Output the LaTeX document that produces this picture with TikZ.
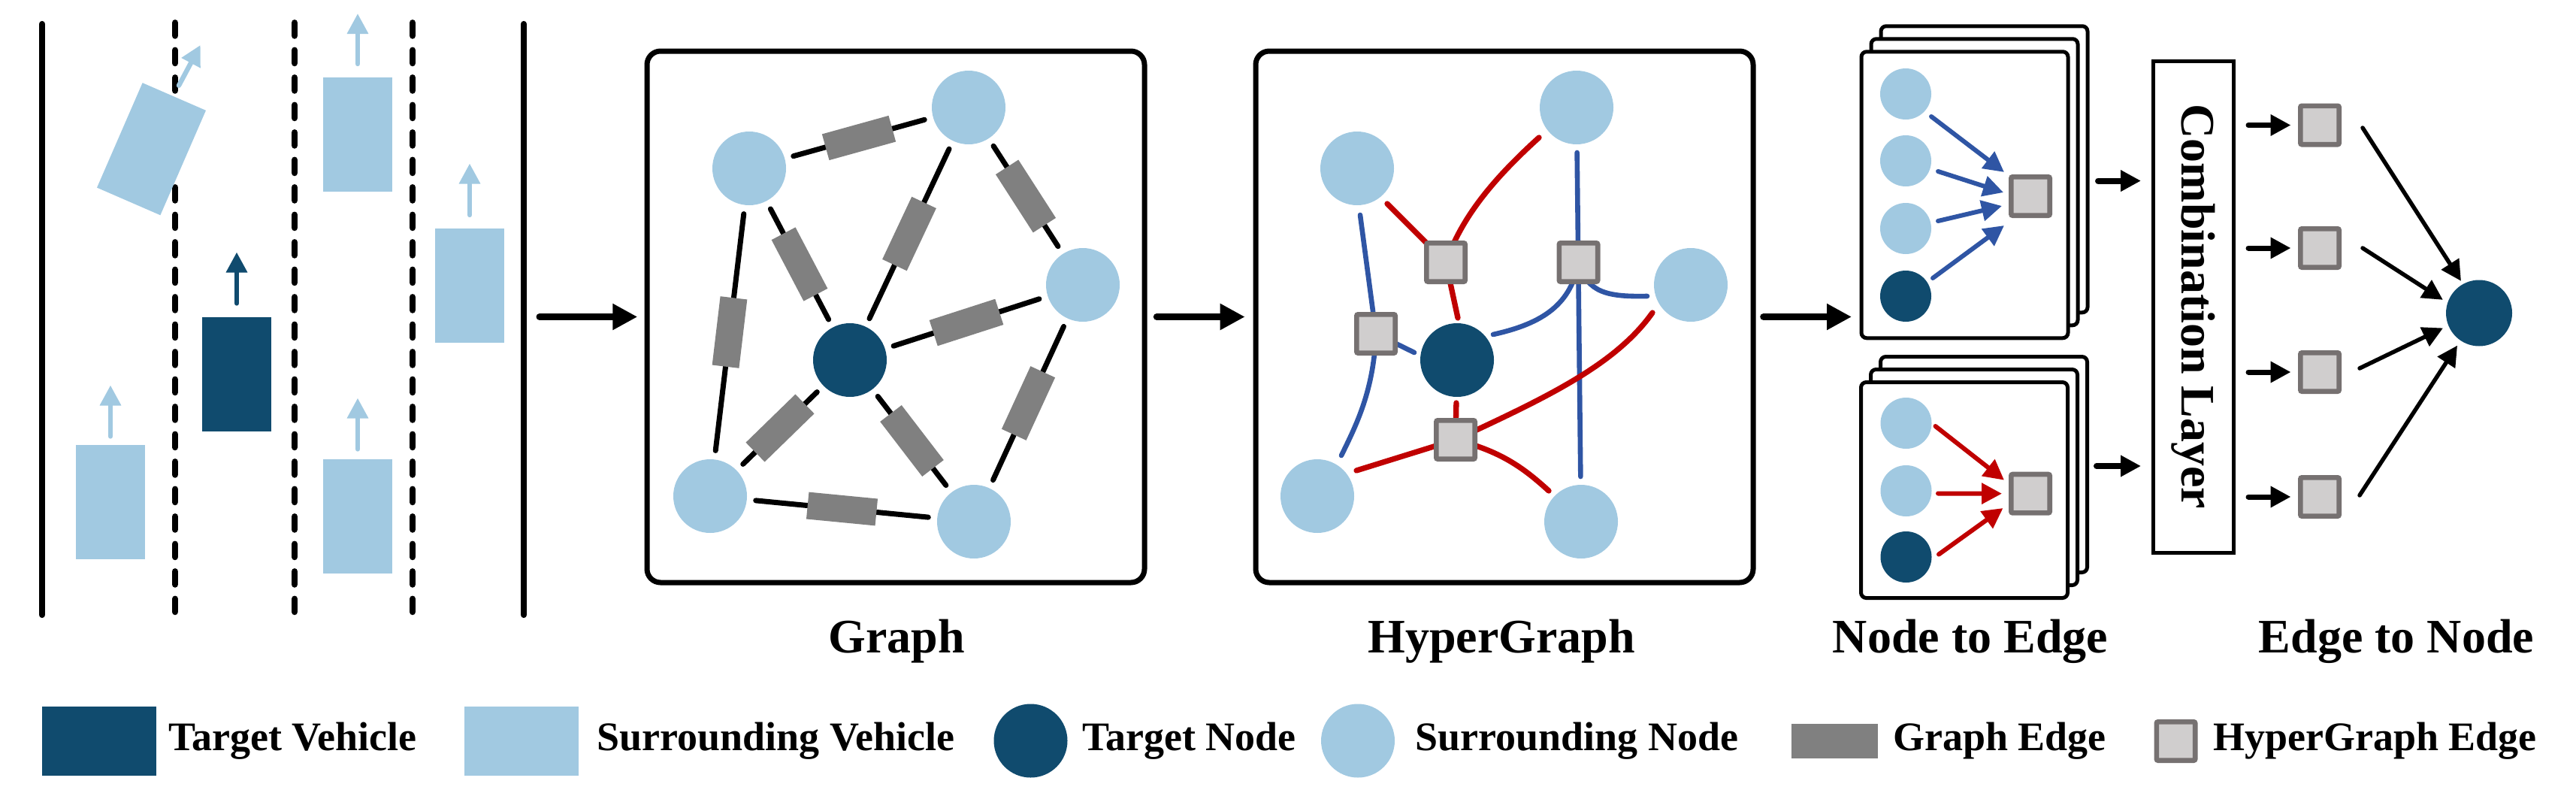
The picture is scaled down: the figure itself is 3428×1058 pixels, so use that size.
\documentclass[tikz,border=0pt]{standalone}
\usepackage{fontspec}
\setmainfont{Liberation Serif}
\usetikzlibrary{arrows.meta,calc}
\definecolor{lightv}{RGB}{161,201,225}
\definecolor{darkv}{RGB}{16,75,110}
\definecolor{gedge}{RGB}{128,128,128}
\definecolor{hfill}{RGB}{208,206,206}
\definecolor{hborder}{RGB}{118,113,113}
\definecolor{hredc}{RGB}{192,0,0}
\definecolor{hbluec}{RGB}{47,85,164}
\tikzset{
  roadsolid/.style={line width=8.3pt, line cap=round},
  roaddash/.style={line width=8.3pt, line cap=round, dash pattern=on 17.4pt off 19.1pt},
  car/.style={rectangle, minimum width=92pt, minimum height=152pt, inner sep=0pt, outer sep=0pt},
  carrow/.style={line width=6.4pt, line cap=round, -{Triangle[length=27pt,width=27pt]}},
  bigarrow/.style={line width=9pt, line cap=round, -{Triangle[length=33pt,width=33pt]}},
  midarrow/.style={line width=8pt, line cap=round, -{Triangle[length=27pt,width=27pt]}},
  thinarrow/.style={line width=5.5pt, line cap=round, -{Triangle[length=27pt,width=27pt]}},
  panel/.style={draw, line width=7pt, rounded corners=18pt, minimum width=662pt, minimum height=707pt, inner sep=0pt},
  card/.style={draw, fill=white, line width=5pt, rounded corners=7pt, minimum width=275pt, inner sep=0pt},
  lightnode/.style={circle, fill=lightv, minimum size=98pt, inner sep=0pt, outer sep=0pt},
  darknode/.style={circle, fill=darkv, minimum size=98pt, inner sep=0pt, outer sep=0pt},
  smalllight/.style={lightnode, minimum size=68pt},
  smalldark/.style={darknode, minimum size=68pt},
  gbox/.style={rectangle, fill=gedge, minimum width=92pt, minimum height=36pt, inner sep=0pt},
  hsq/.style={rectangle, fill=hfill, draw=hborder, line width=6.6pt, minimum size=51.4pt, rounded corners=2pt, inner sep=0pt},
  gline/.style={line width=7pt, line cap=round, shorten <=12pt, shorten >=12pt},
  hred/.style={draw=hredc, line width=7.3pt, line cap=round},
  hblue/.style={draw=hbluec, line width=6.6pt, line cap=round},
  lab/.style={font=\fontsize{64}{70}\selectfont\bfseries, inner sep=0pt, anchor=base},
  leg/.style={font=\fontsize{54}{60}\selectfont\bfseries, inner sep=0pt, anchor=base west},
}
\begin{document}
\begin{tikzpicture}[x=1pt,y=-1pt]
\useasboundingbox (0,0) rectangle (3428,1058);

% ---------------- road scene ----------------
\draw[roadsolid] (56,32) -- (56,818);
\draw[roadsolid] (697,32) -- (697,818);
\draw[roaddash] (233,30.2) -- (233,818);
\draw[roaddash] (392,30.2) -- (392,818);
\draw[roaddash] (549,30.2) -- (549,818);

\node[car, fill=lightv] (car1) at (147,667.5) {};
\node[car, fill=darkv]  (car2) at (315,497.5) {};
\node[car, fill=lightv] (car3) at (476,179) {};
\node[car, fill=lightv] (car4) at (625,380) {};
\node[car, fill=lightv] (car5) at (476,686.5) {};
\node[car, fill=lightv, rotate=-23.5] (rcar) at (201.5,198.25) {};

\draw[carrow, lightv] ($(car1.north)+(0,-11)$) -- ($(car1.north)+(0,-79)$);
\draw[carrow, darkv]  ($(car2.north)+(0,-18)$) -- ($(car2.north)+(0,-86)$);
\draw[carrow, lightv] ($(car3.north)+(0,-18)$) -- ($(car3.north)+(0,-85)$);
\draw[carrow, lightv] ($(car4.north)+(0,-18)$) -- ($(car4.north)+(0,-86.5)$);
\draw[carrow, lightv] ($(car5.north)+(0,-13)$) -- ($(car5.north)+(0,-81)$);
\draw[carrow, lightv] ($(rcar)+(36.5,-84.5)$) -- ($(rcar)+(65.2,-138.3)$);

% ---------------- panels ----------------
\node[panel] (graphbox) at (1192,421.5) {};
\node[panel] (hyperbox) at (2002,421.5) {};

\coordinate (roadout) at (718,421.5);
\draw[bigarrow, shorten >=9.2pt] (roadout) -- (graphbox.west);
\draw[bigarrow, shorten <=12.8pt, shorten >=10.8pt] (graphbox.east) -- (hyperbox.west);

% ---------------- graph ----------------
\node[lightnode] (g1) at (997,224) {};
\node[lightnode] (g2) at (1289,143) {};
\node[lightnode] (g3) at (1441,379) {};
\node[lightnode] (g4) at (1296,694) {};
\node[lightnode] (g5) at (945,660) {};
\node[darknode]  (gt) at (1131,479) {};

\draw[gline] (g1) -- node[gbox, sloped] (ge1) {} (g2);
\draw[gline] (g2) -- node[gbox, sloped] (ge2) {} (g3);
\draw[gline] (g3) -- node[gbox, sloped] (ge3) {} (g4);
\draw[gline] (g4) -- node[gbox, sloped] (ge4) {} (g5);
\draw[gline] (g5) -- node[gbox, sloped] (ge5) {} (g1);
\draw[gline] (gt) -- node[gbox, sloped] (ge6) {} (g1);
\draw[gline] (gt) -- node[gbox, sloped] (ge7) {} (g2);
\draw[gline] (gt) -- node[gbox, sloped] (ge8) {} (g3);
\draw[gline] (gt) -- node[gbox, sloped] (ge9) {} (g4);
\draw[gline] (gt) -- node[gbox, sloped] (ge10) {} (g5);

% ---------------- hypergraph ----------------
\node[lightnode] (h1) at (1806,224) {};
\node[lightnode] (h2) at (2098,143) {};
\node[lightnode] (h3) at (2250,379) {};
\node[lightnode] (h4) at (2104,694) {};
\node[lightnode] (h5) at (1753,660) {};
\node[darknode]  (ht) at (1939,479) {};

\coordinate (e1) at (1924,349);
\coordinate (e2) at (2100.5,349);
\coordinate (e3) at (1831,444);
\coordinate (e4) at (1937,585);

% blue hyperedges
\draw[hblue, shorten <=11pt, shorten >=11pt] (h2) -- (h4);
\draw[hblue] (e2) .. controls (2112,390) and (2140,395) .. ($(h3)+(-58,15)$);
\draw[hblue] (e2) .. controls (2090,410) and (2045,432) .. ($(ht)+(48,-34)$);
\draw[hblue] (e3) -- ($(h1)+(4,62)$);
\draw[hblue] (e3) -- ($(ht)+(-57,-10)$);
\draw[hblue] (e3) .. controls (1828,520) and (1805,565) .. ($(h5)+(32,-54)$);
% red hyperedges
\draw[hred] (e1) -- ($(h1)+(40,47)$);
\draw[hred] (e1) .. controls (1945,290) and (1985,240) .. ($(h2)+(-50,40)$);
\draw[hred] (e1) -- ($(ht)+(1,-56)$);
\draw[hred, shorten >=8pt] (e4) -- (ht);
\draw[hred] (e4) -- ($(h5)+(52,-34)$);
\draw[hred] (e4) .. controls (1995,600) and (2025,620) .. ($(h4)+(-43,-41)$);
\draw[hred] (e4) .. controls (2060,528) and (2150,485) .. ($(h3)+(-51,37)$);

\node[hsq] (E1) at (e1) {};
\node[hsq] (E2) at (e2) {};
\node[hsq] (E3) at (e3) {};
\node[hsq] (E4) at (e4) {};

% ---------------- node to edge ----------------
\node[card, minimum height=381pt] (card1c) at (2640.5,225.25) {};
\node[card, minimum height=381pt] (card1b) at (2627.5,242.25) {};
\node[card, minimum height=381pt] (card1)  at (2614.5,259.25) {};
\node[card, minimum height=287pt] (card2c) at (2640,618) {};
\node[card, minimum height=287pt] (card2b) at (2627,635) {};
\node[card, minimum height=287pt] (card2)  at (2614,652) {};

\draw[bigarrow, shorten <=10.2pt, shorten >=10.5pt] (hyperbox.east) -- (hyperbox.east -| card1.west);

\node[smalllight] (u1) at (2536,125) {};
\node[smalllight] (u2) at (2536,214) {};
\node[smalllight] (u3) at (2536,304) {};
\node[smalldark]  (u4) at (2536,394) {};
\node[hsq] (usq) at (2702,261) {};
\draw[thinarrow, hbluec, line width=6pt] ($(u1)+(34,30)$) -- ($(usq)+(-35,-32)$);
\draw[thinarrow, hbluec, line width=6pt] ($(u2)+(43,14)$) -- ($(usq)+(-36,-5)$);
\draw[thinarrow, hbluec, line width=6pt] ($(u3)+(43,-10)$) -- ($(usq)+(-38,13)$);
\draw[thinarrow, hbluec, line width=6pt] ($(u4)+(36,-24)$) -- ($(usq)+(-35,39)$);

\node[smalllight] (l1) at (2536.5,563) {};
\node[smalllight] (l2) at (2536.5,653) {};
\node[smalldark]  (l3) at (2536.5,741) {};
\node[hsq] (lsq) at (2702,656.7) {};
\draw[thinarrow, hredc, line width=6pt] ($(l1)+(39,4)$) -- ($(lsq)+(-35,-18)$);
\draw[thinarrow, hredc, line width=6pt] ($(l2)+(42.5,3.5)$) -- ($(lsq)+(-38,0)$);
\draw[thinarrow, hredc, line width=6pt] ($(l3)+(43.5,-3.5)$) -- ($(lsq)+(-36.5,19.3)$);

% ---------------- combination layer ----------------
\node[draw, line width=5pt, minimum width=107pt, minimum height=654pt, inner sep=0pt] (comb) at (2918.5,408) {};
\node[rotate=-90, inner sep=0pt, font=\fontsize{64}{70}\selectfont\bfseries] (combtext) at (comb.center) {Combination Layer};

\coordinate (ca) at ($(card1.east)+(37.5,-18.7)$);
\coordinate (cb) at ($(card2.east)+(36,-32)$);
\draw[midarrow, shorten >=13.5pt] (ca) -- (ca -| comb.west);
\draw[midarrow, shorten >=13.5pt] (cb) -- (cb -| comb.west);

% ---------------- edge to node ----------------
\node[hsq] (s1) at (3087,166.5) {};
\node[hsq] (s2) at (3087,330) {};
\node[hsq] (s3) at (3087,495) {};
\node[hsq] (s4) at (3087,661) {};
\node[darknode, minimum size=88pt] (fn) at (3299,416.5) {};

\draw[midarrow, line width=7pt, shorten <=17.5pt, shorten >=9.5pt] (s1.west -| comb.east) -- (s1.west);
\draw[midarrow, line width=7pt, shorten <=17.5pt, shorten >=9.5pt] (s2.west -| comb.east) -- (s2.west);
\draw[midarrow, line width=7pt, shorten <=17.5pt, shorten >=9.5pt] (s3.west -| comb.east) -- (s3.west);
\draw[midarrow, line width=7pt, shorten <=17.5pt, shorten >=9.5pt] (s4.west -| comb.east) -- (s4.west);

\draw[thinarrow, shorten >=5pt] ($(s1.east)+(28,3.5)$) -- (fn.119.5);
\draw[thinarrow, shorten >=7.5pt] ($(s2.east)+(28,0)$) -- (fn.162);
\draw[thinarrow, shorten >=8pt] ($(s3.east)+(24,-5)$) -- (fn.202);
\draw[thinarrow, shorten >=8pt] ($(s4.east)+(24,-2)$) -- (fn.236.3);

% ---------------- section labels ----------------
\node[lab] (lgraph) at (1193,868) {Graph};
\node[lab] (lhyper) at (1998,868) {HyperGraph};
\node[lab] (lnte) at (2622,868) {Node to Edge};
\node[lab] (letn) at (3189,868) {Edge to Node};

% ---------------- legend ----------------
\node[car, fill=darkv, minimum width=152pt, minimum height=92pt] (legtv) at (132,986) {};
\node[leg] (legtvt) at (224,998) {Target Vehicle};
\node[car, fill=lightv, minimum width=152pt, minimum height=92pt] (legsv) at (693.5,986) {};
\node[leg] (legsvt) at (794.5,998) {Surrounding Vehicle};
\node[darknode] (legtn) at (1371.5,985.5) {};
\node[leg] (legtnt) at (1440,998) {Target Node};
\node[lightnode] (legsn) at (1807,985.5) {};
\node[leg] (legsnt) at (1883.5,998) {Surrounding Node};
\node[gbox, minimum width=115pt, minimum height=46pt] (legge) at (2441.5,986) {};
\node[leg] (leggetxt) at (2519,998) {Graph Edge};
\node[hsq] (leghe) at (2895.5,986) {};
\node[leg] (leghet) at (2945,998) {HyperGraph Edge};
\end{tikzpicture}
\end{document}
